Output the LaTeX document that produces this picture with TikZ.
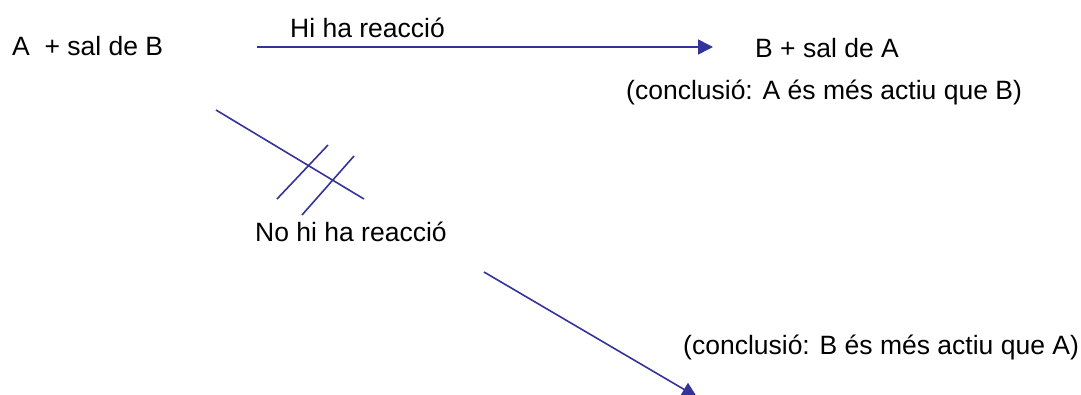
\documentclass[tikz,border=0pt]{standalone}
\usepackage{fontspec}
\setmainfont{Liberation Sans}
\usetikzlibrary{arrows.meta}
\definecolor{linkblue}{HTML}{333399}
\begin{document}
\begin{tikzpicture}[x=1pt,y=-1pt,
  lbl/.style={anchor=base west, inner sep=0pt, font=\fontsize{26.5}{32}\selectfont},
  link/.style={draw=linkblue, line width=1.6pt},
  arr/.style={link, -{Triangle[length=15pt,width=15pt]}}]
\useasboundingbox (0,0) rectangle (1081,394);
\clip (0,0) rectangle (1081,394);

% reactants, products and conclusions
\node[lbl] (lhs)   at (12,55)   {A\ \ + sal de B};
\node[lbl] (yes)   at (290,37)  {Hi ha reacció};
\node[lbl] (rhs)   at (755,57)  {B + sal de A};
\node[lbl] (concA) at (626,99)  {(conclusió: A és més actiu que B)};
\node[lbl] (no)    at (255,241) {No hi ha reacció};
\node[lbl] (concB) at (683,354) {(conclusió: B és més actiu que A)};

% reaction takes place
\coordinate (h0) at (257,47);
\coordinate (h1) at (713,47);
\draw[arr] (h0) -- (h1);

% crossed-out path
\coordinate (d0) at (216,110);
\coordinate (d1) at (364,199);
\draw[link] (d0) -- (d1);
\coordinate (s0) at (277,199);
\coordinate (s1) at (328,145);
\draw[link] (s0) -- (s1);
\coordinate (t0) at (302,215);
\coordinate (t1) at (354,156);
\draw[link] (t0) -- (t1);

% no reaction
\coordinate (u0) at (484,272);
\coordinate (u1) at (697,397);
\draw[arr] (u0) -- (u1);
\end{tikzpicture}
\end{document}
